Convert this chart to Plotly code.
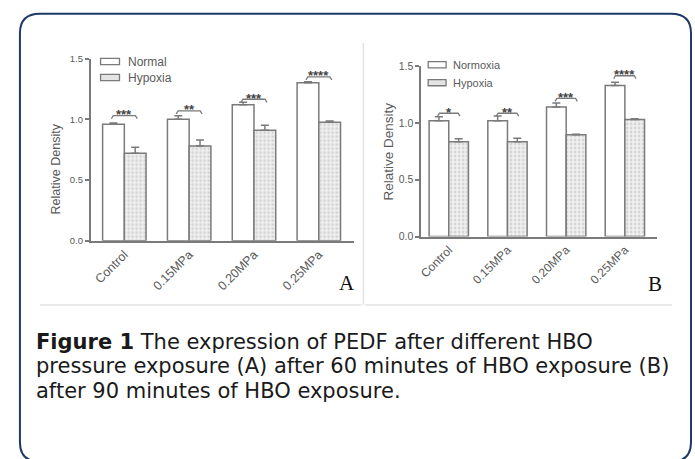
import plotly.graph_objects as go

W, H = 695, 459

categories = ["Control", "0.15MPa", "0.20MPa", "0.25MPa"]

# Panel A (60 min)
a_normal = [0.96, 1.00, 1.12, 1.30]
a_normal_err = [0.01, 0.03, 0.02, 0.01]
a_hypoxia = [0.72, 0.78, 0.91, 0.975]
a_hypoxia_err = [0.05, 0.05, 0.04, 0.01]
a_sig_y = [1.03, 1.07, 1.165, 1.35]
a_sig_txt = ["***", "**", "***", "****"]

# Panel B (90 min)
b_normal = [1.02, 1.02, 1.14, 1.33]
b_normal_err = [0.035, 0.04, 0.035, 0.027]
b_hypoxia = [0.835, 0.835, 0.895, 1.03]
b_hypoxia_err = [0.025, 0.03, 0.006, 0.006]
b_sig_y = [1.085, 1.085, 1.215, 1.415]
b_sig_txt = ["*", "**", "***", "****"]

y_ticks = [0, 0.5, 1.0, 1.5]
y_ticktext = ["0.0", "0.5", "1.0", "1.5"]

legend_a = ["Normal", "Hypoxia"]
legend_b = ["Normoxia", "Hypoxia"]

GRAY = "#7a7a7a"
TXT = "#5a5a5a"
FONT = "Liberation Sans, Arial, sans-serif"


def px(x):
    return x / W


def py(y):
    return 1 - y / H


fig = go.Figure()

pattern = dict(shape=".", fgcolor="#b5b5b5", bgcolor="#f1f1f1", size=4, solidity=0.38)


def add_pair(xa, ya, normal, nerr, hyp, herr, names):
    fig.add_trace(go.Bar(
        x=categories, y=normal, name=names[0], xaxis=xa, yaxis=ya,
        marker=dict(color="white", line=dict(color=GRAY, width=1.5)),
        error_y=dict(type="data", symmetric=False, array=nerr, arrayminus=[0] * len(nerr),
                     color=GRAY, thickness=1.5, width=4),
    ))
    fig.add_trace(go.Bar(
        x=categories, y=hyp, name=names[1], xaxis=xa, yaxis=ya,
        marker=dict(color="#f1f1f1", pattern=pattern, line=dict(color=GRAY, width=1.5)),
        error_y=dict(type="data", symmetric=False, array=herr, arrayminus=[0] * len(herr),
                     color=GRAY, thickness=1.5, width=4),
    ))


add_pair("x", "y", a_normal, a_normal_err, a_hypoxia, a_hypoxia_err, legend_a)
add_pair("x2", "y2", b_normal, b_normal_err, b_hypoxia, b_hypoxia_err, legend_b)

shapes = []
annotations = []


def add_sig(xref, yref, ys, txts, half, d):
    for i, (yv, t) in enumerate(zip(ys, txts)):
        x1, x2 = i - half, i + half
        shapes.append(dict(type="path", xref=xref, yref=yref,
                           path=f"M {x1},{yv - d} L {x1 + 0.03},{yv} L {x2 - 0.03},{yv} L {x2},{yv - d}",
                           line=dict(color=GRAY, width=1.3)))
        annotations.append(dict(x=i, y=yv, xref=xref, yref=yref, text=f"<b>{t}</b>",
                                showarrow=False, xanchor="center", yanchor="middle", yshift=1,
                                font=dict(family=FONT, size=13, color="#444")))


add_sig("x", "y", a_sig_y, a_sig_txt, 0.2, 0.025)
add_sig("x2", "y2", b_sig_y, b_sig_txt, 0.19, 0.025)


# manual legends (key boxes + labels)
def add_legend(names, x0, x1, ycs, hh, tx, fsize):
    fills = ["white", "#e4e4e4"]
    for name, yc, fc in zip(names, ycs, fills):
        shapes.append(dict(type="rect", xref="paper", yref="paper",
                           x0=px(x0), x1=px(x1), y0=py(yc + hh), y1=py(yc - hh),
                           fillcolor=fc, line=dict(color=GRAY, width=1.3)))
        annotations.append(dict(x=px(tx), y=py(yc), xref="paper", yref="paper", text=name,
                                showarrow=False, xanchor="left", yanchor="middle", borderpad=0,
                                font=dict(family=FONT, size=fsize, color=TXT)))


add_legend(legend_a, 98, 117, [57, 73.5], 3.2, 125, 12)
add_legend(legend_b, 427, 445, [60.3, 78.7], 3.2, 451, 11)

# outer rounded frame
L, T, R, B, r = 17, 8, 691, 468, 20
frame = (f"M {px(L + r)},{py(T)} L {px(R - r)},{py(T)} Q {px(R)},{py(T)} {px(R)},{py(T + r)} "
         f"L {px(R)},{py(B - r)} Q {px(R)},{py(B)} {px(R - r)},{py(B)} "
         f"L {px(L + r)},{py(B)} Q {px(L)},{py(B)} {px(L)},{py(B - r)} "
         f"L {px(L)},{py(T + r)} Q {px(L)},{py(T)} {px(L + r)},{py(T)} Z")
shapes.append(dict(type="path", xref="paper", yref="paper", path=frame,
                   line=dict(color="#1f3a68", width=2)))

# faint panel image borders
for (x0, y0, x1, y1) in [(37, 307, 360, 307), (362, 38, 362, 307), (364, 307, 672, 307)]:
    shapes.append(dict(type="line", xref="paper", yref="paper",
                       x0=px(x0), y0=py(y0), x1=px(x1), y1=py(y1),
                       line=dict(color="#e2e2e2", width=1.5)))

# axis titles
annotations.append(dict(x=px(53), y=py(167), xref="paper", yref="paper", text="Relative Density",
                        textangle=-90, showarrow=False, xanchor="center", yanchor="middle",
                        font=dict(family=FONT, size=12.5, color=TXT)))
annotations.append(dict(x=px(387), y=py(149), xref="paper", yref="paper", text="Relative Density",
                        textangle=-90, showarrow=False, xanchor="center", yanchor="middle",
                        font=dict(family=FONT, size=13.5, color=TXT)))

# panel letters
SERIF = "Liberation Serif, Times New Roman, serif"
annotations.append(dict(x=px(345), y=py(284), xref="paper", yref="paper", text="A", showarrow=False,
                        xanchor="center", yanchor="middle", font=dict(family=SERIF, size=21, color="#111")))
annotations.append(dict(x=px(655), y=py(285), xref="paper", yref="paper", text="B", showarrow=False,
                        xanchor="center", yanchor="middle", font=dict(family=SERIF, size=21, color="#111")))

# caption
CAP = "DejaVu Sans, sans-serif"
cap_lines = ["<b>Figure 1</b> The expression of PEDF after different HBO",
             "pressure exposure (A) after 60 minutes of HBO exposure (B)",
             "after 90 minutes of HBO exposure."]
for i, line in enumerate(cap_lines):
    annotations.append(dict(x=px(32), y=py(345 + 25 * i), xref="paper", yref="paper", text=line,
                            showarrow=False, xanchor="left", yanchor="middle", align="left",
                            borderpad=0, font=dict(family=CAP, size=21, color="#1a1a1a")))

yax = dict(range=[0, 1.5], tickvals=y_ticks, ticktext=y_ticktext, showline=True, linecolor=GRAY,
           linewidth=1.5, ticks="outside", ticklen=4, tickwidth=1.5, tickcolor=GRAY, showgrid=False,
           zeroline=False, fixedrange=True)
xax = dict(showline=True, linecolor=GRAY, linewidth=1.5, ticks="", tickangle=-45, showgrid=False,
           zeroline=False, fixedrange=True)

fig.update_layout(
    width=W, height=H, margin=dict(l=0, r=0, t=0, b=0), autosize=False,
    paper_bgcolor="white", plot_bgcolor="white",
    barmode="group", bargap=0.33, bargroupgap=0, showlegend=False,
    xaxis=dict(xax, domain=[px(88), px(353)], range=[-0.52, 3.55], anchor="y",
               tickfont=dict(family=FONT, size=12.5, color=TXT)),
    yaxis=dict(yax, domain=[py(241), py(54)], anchor="x",
               tickfont=dict(family=FONT, size=9.5, color=TXT)),
    xaxis2=dict(xax, domain=[px(420), px(657)], range=[-0.47, 3.55], anchor="y2",
                tickfont=dict(family=FONT, size=12, color=TXT)),
    yaxis2=dict(yax, domain=[py(236.7), py(61.7)], anchor="x2",
                tickfont=dict(family=FONT, size=10.5, color=TXT)),
    shapes=shapes, annotations=annotations,
)

fig.write_html("out.html", config={"displayModeBar": False},
               post_script="document.body.style.margin='0px';"
                           "document.documentElement.style.overflow='hidden';")
